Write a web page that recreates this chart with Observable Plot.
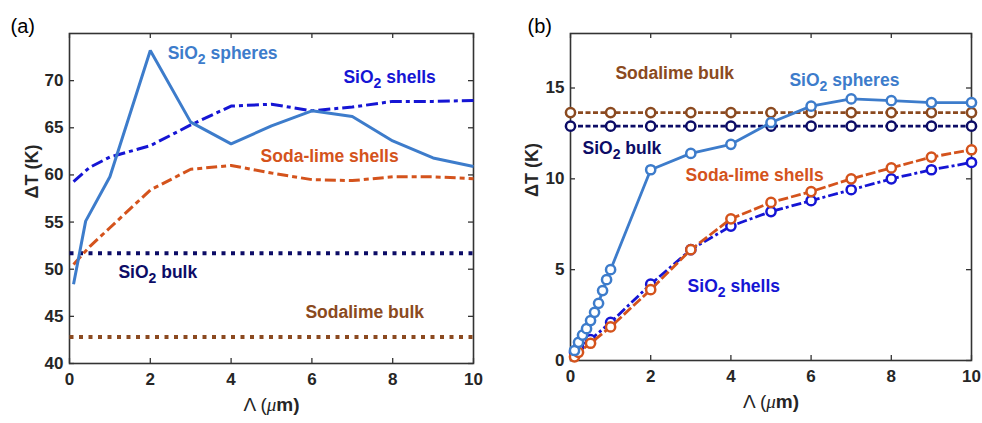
<!DOCTYPE html>
<html>
<head>
<meta charset="utf-8">
<script src="https://cdn.jsdelivr.net/npm/d3@7"></script>
<script src="https://cdn.jsdelivr.net/npm/@observablehq/plot@0.6"></script>
<style>
  body { margin: 0; background: #fff; }
  #wrap { position: relative; width: 982px; height: 423px; }
  #wrap > svg { position: absolute; top: 0; }
</style>
</head>
<body>
<div id="wrap"></div>
<script>
// ---------- data: panel (a) ----------
const xSpheresA = [0.1, 0.4, 1, 2, 3, 4, 5, 6, 7, 8, 9, 10];
const sio2SpheresA = [48.4, 55.1, 59.8, 73.2, 65.6, 63.3, 65.2, 66.8, 66.2, 63.6, 61.8, 60.9];
const xShellsA = [0.1, 0.5, 1, 2, 3, 4, 5, 6, 7, 8, 9, 10];
const sio2ShellsA = [59.3, 60.8, 61.9, 63.1, 65.3, 67.3, 67.5, 66.8, 67.2, 67.8, 67.8, 67.9];
const sodaShellsA = [50.5, 52.4, 54.4, 58.4, 60.6, 61.0, 60.2, 59.5, 59.4, 59.8, 59.8, 59.6];
const xBulkA = [0, 10];
const sio2BulkA = [51.7, 51.7];
const sodaBulkA = [42.8, 42.8];
const yTicksA = [40, 45, 50, 55, 60, 65, 70];

// ---------- data: panel (b) ----------
const xSpheresB = [0.1, 0.2, 0.3, 0.4, 0.5, 0.6, 0.7, 0.8, 0.9, 1, 2, 3, 4, 5, 6, 7, 8, 9, 10];
const sio2SpheresB = [0.55, 1.0, 1.4, 1.75, 2.2, 2.65, 3.15, 3.85, 4.45, 5.0, 10.5, 11.4, 11.9, 13.1, 14.0, 14.4, 14.3, 14.2, 14.2];
const xShellsB = [0.1, 0.2, 0.5, 1, 2, 3, 4, 5, 6, 7, 8, 9, 10];
const sodaShellsB = [0.2, 0.45, 0.95, 1.85, 3.9, 6.1, 7.8, 8.7, 9.3, 10.0, 10.6, 11.2, 11.6];
const sio2ShellsB = [0.45, 0.75, 1.15, 2.1, 4.2, 6.1, 7.4, 8.2, 8.8, 9.4, 10.0, 10.5, 10.9];
const xBulkB = [0, 1, 2, 3, 4, 5, 6, 7, 8, 9, 10];
const sodaBulkB = xBulkB.map(() => 13.65);
const sio2BulkB = xBulkB.map(() => 12.9);
const yTicksB = [0, 5, 10, 15];

const xTicks = [0, 2, 4, 6, 8, 10];

// ---------- annotation labels ----------
const labelsA = [
  {text: "SiO2 spheres", x: 2.43, y: 72.9, key: "spheres"},
  {text: "SiO2 shells", x: 6.78, y: 70.3, key: "sio2shells"},
  {text: "Soda-lime shells", x: 4.73, y: 61.95, key: "sodashells"},
  {text: "SiO2 bulk", x: 1.21, y: 49.65, key: "sio2bulk"},
  {text: "Sodalime bulk", x: 5.84, y: 45.4, key: "sodabulk"}
];
const labelsB = [
  {text: "Sodalime bulk", x: 1.12, y: 15.8, key: "sodabulk"},
  {text: "SiO2 spheres", x: 5.46, y: 15.4, key: "spheres"},
  {text: "SiO2 bulk", x: 0.3, y: 11.7, key: "sio2bulk"},
  {text: "Soda-lime shells", x: 2.87, y: 10.2, key: "sodashells"},
  {text: "SiO2 shells", x: 2.92, y: 4.07, key: "sio2shells"}
];

// ---------- styles ----------
const colors = {
  spheres: "#3d7ccb",
  sio2shells: "#1515d4",
  sodashells: "#d4531c",
  sio2bulk: "#0c0c66",
  sodabulk: "#8b4a20"
};
const FONT = "'Liberation Sans', Arial, sans-serif";
const tbl = (xs, ys) => xs.map((x, i) => ({x, y: ys[i]}));
const TICK = 5;

function axes(yTicks, fw, fh) {
  const common = {color: "#262626", fontSize: 17, fontWeight: "bold", label: null};
  const tk = {stroke: "#333", strokeWidth: 1.3};
  return [
    Plot.axisX({...common, ticks: xTicks, tickSize: 0, tickPadding: 9}),
    Plot.axisY({...common, ticks: yTicks, tickSize: 0, tickPadding: 6}),
    // inward ticks on all four sides (MATLAB style)
    Plot.tickX(xTicks, {x: d => d, insetTop: fh - TICK, ...tk}),
    Plot.tickX(xTicks, {x: d => d, insetBottom: fh - TICK, ...tk}),
    Plot.tickY(yTicks, {y: d => d, insetRight: fw - TICK, ...tk}),
    Plot.tickY(yTicks, {y: d => d, insetLeft: fw - TICK, ...tk}),
    Plot.frame({stroke: "#333", strokeWidth: 1.6})
  ];
}

function labelMarks(labels) {
  return labels.map(l => Plot.text([l], {
    x: "x", y: "y", text: "text", fill: colors[l.key],
    textAnchor: "start", fontSize: 17.5, fontWeight: "bold"
  }));
}

function frameTexts(tag, tagDx, yLabelDx) {
  return [
    Plot.text([tag], {frameAnchor: "top-left", dx: tagDx, dy: -15, textAnchor: "start", fontSize: 20, fill: "#000"}),
    Plot.text(["ΔT (K)"], {frameAnchor: "left", dx: yLabelDx, rotate: -90, fontSize: 18, fontWeight: "bold", fill: "#262626"}),
    Plot.text(["Λ (μm)"], {frameAnchor: "bottom", dy: 47, fontSize: 19, fontWeight: "bold", fill: "#262626"})
  ];
}

const lineOpts = {x: "x", y: "y", strokeLinecap: "butt", strokeLinejoin: "miter"};
const dotOpts = {x: "x", y: "y", r: 4.6, strokeWidth: 2.5, fill: "white"};

const plotA = Plot.plot({
  width: 491, height: 423,
  marginLeft: 69, marginRight: 18, marginTop: 33, marginBottom: 60,
  style: {fontFamily: FONT, overflow: "visible", background: "transparent"},
  x: {domain: [0, 10]},
  y: {domain: [40, 75]},
  marks: [
    ...axes(yTicksA, 491 - 69 - 18, 423 - 33 - 60),
    Plot.line(tbl(xBulkA, sodaBulkA), {...lineOpts, stroke: colors.sodabulk, strokeWidth: 4, strokeDasharray: "4,5.5"}),
    Plot.line(tbl(xBulkA, sio2BulkA), {...lineOpts, stroke: colors.sio2bulk, strokeWidth: 4, strokeDasharray: "4,5.5"}),
    Plot.line(tbl(xShellsA, sodaShellsA), {...lineOpts, stroke: colors.sodashells, strokeWidth: 3, strokeDasharray: "11,4,5,4"}),
    Plot.line(tbl(xShellsA, sio2ShellsA), {...lineOpts, stroke: colors.sio2shells, strokeWidth: 3, strokeDasharray: "12,4,4,4"}),
    Plot.line(tbl(xSpheresA, sio2SpheresA), {...lineOpts, stroke: colors.spheres, strokeWidth: 3}),
    ...labelMarks(labelsA),
    ...frameTexts("(a)", -59, -37)
  ]
});

const plotB = Plot.plot({
  width: 491, height: 423,
  marginLeft: 79, marginRight: 11, marginTop: 33, marginBottom: 63,
  style: {fontFamily: FONT, overflow: "visible", background: "transparent"},
  x: {domain: [0, 10]},
  y: {domain: [0, 18]},
  marks: [
    ...axes(yTicksB, 491 - 79 - 11, 423 - 33 - 63),
    Plot.line(tbl(xBulkB, sodaBulkB), {...lineOpts, stroke: colors.sodabulk, strokeWidth: 2.8, strokeDasharray: "5,2.5"}),
    Plot.dot(tbl(xBulkB, sodaBulkB), {...dotOpts, stroke: colors.sodabulk}),
    Plot.line(tbl(xBulkB, sio2BulkB), {...lineOpts, stroke: colors.sio2bulk, strokeWidth: 2.8, strokeDasharray: "5,2.5"}),
    Plot.dot(tbl(xBulkB, sio2BulkB), {...dotOpts, stroke: colors.sio2bulk}),
    Plot.line(tbl(xShellsB, sio2ShellsB), {...lineOpts, stroke: colors.sio2shells, strokeWidth: 2.8, strokeDasharray: "10,3,3,3"}),
    Plot.dot(tbl(xShellsB, sio2ShellsB), {...dotOpts, stroke: colors.sio2shells}),
    Plot.line(tbl(xShellsB, sodaShellsB), {...lineOpts, stroke: colors.sodashells, strokeWidth: 2.8, strokeDasharray: "10,3"}),
    Plot.dot(tbl(xShellsB, sodaShellsB), {...dotOpts, stroke: colors.sodashells}),
    Plot.line(tbl(xSpheresB, sio2SpheresB), {...lineOpts, stroke: colors.spheres, strokeWidth: 2.8}),
    Plot.dot(tbl(xSpheresB, sio2SpheresB), {...dotOpts, stroke: colors.spheres}),
    ...labelMarks(labelsB),
    ...frameTexts("(b)", -43, -38)
  ]
});

plotA.style.left = "0px";
plotB.style.left = "491px";
const wrap = document.getElementById("wrap");
wrap.appendChild(plotA);
wrap.appendChild(plotB);

// typographic touches: subscript in SiO2, italic mu
const NS = "http://www.w3.org/2000/svg";
for (const svg of [plotA, plotB]) {
  svg.querySelectorAll("text").forEach(t => {
    const s = t.textContent;
    if (s.startsWith("SiO2")) {
      const rest = s.slice(4);
      t.textContent = "";
      const a = document.createElementNS(NS, "tspan");
      a.textContent = "SiO";
      const b = document.createElementNS(NS, "tspan");
      b.textContent = "2"; b.setAttribute("dy", "5"); b.setAttribute("font-size", "14");
      const c = document.createElementNS(NS, "tspan");
      c.textContent = rest; c.setAttribute("dy", "-5");
      t.append(a, b, c);
    } else if (s === "Λ (μm)") {
      t.textContent = "";
      const a = document.createElementNS(NS, "tspan");
      a.textContent = "Λ (";
      a.setAttribute("font-weight", "normal");
      const b = document.createElementNS(NS, "tspan");
      b.textContent = "μ"; b.setAttribute("font-style", "italic"); b.setAttribute("font-weight", "normal");
      b.setAttribute("font-family", "'Liberation Serif', serif");
      const c = document.createElementNS(NS, "tspan");
      c.textContent = "m)";
      t.append(a, b, c);
    }
  });
}
</script>
</body>
</html>
